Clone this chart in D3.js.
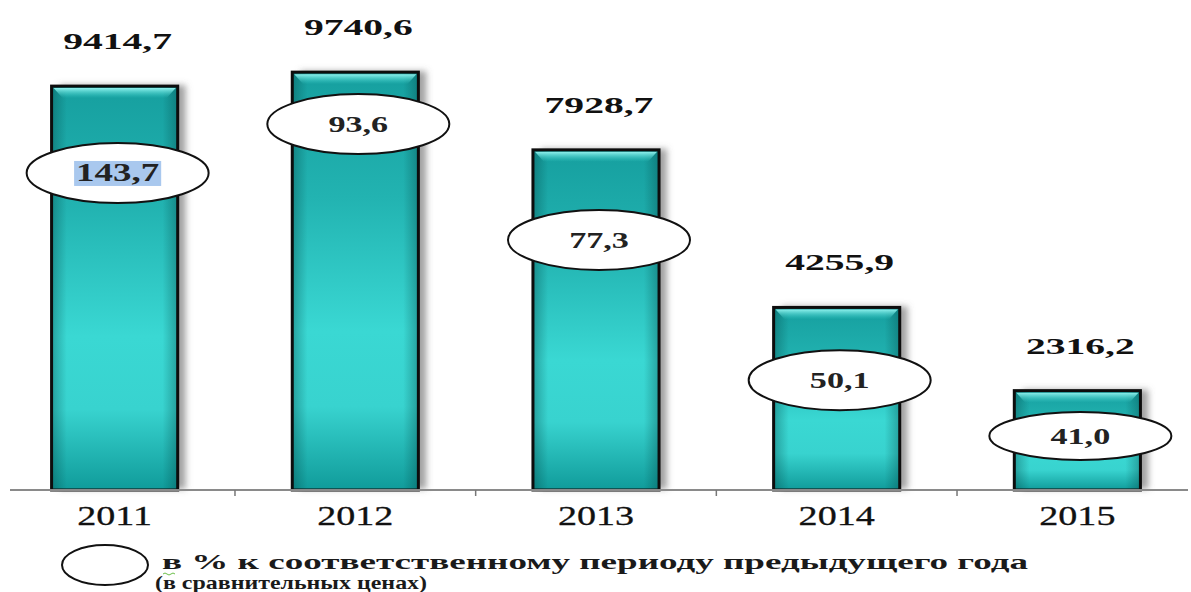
<!DOCTYPE html>
<html>
<head>
<meta charset="utf-8">
<script src="https://cdn.jsdelivr.net/npm/d3@7"></script>
<style>
  body { margin: 0; background: #fff; }
  svg { display: block; }
</style>
</head>
<body>
<div id="chart"></div>
<script>
// data
const years = ['2011', '2012', '2013', '2014', '2015']
const values = [9414.7, 9740.6, 7928.7, 4255.9, 2316.2]
const pct = [143.7, 93.6, 77.3, 50.1, 41.0]
// where each ellipse sits, in value units of the bar scale
const pctAnchor = [7390, 8530, 5830, 2560, 1260]
const legendLines = ['в % к соответственному периоду предыдущего года', '(в сравнительных ценах)']

const W = 1191, H = 592
const baseY = 490
const serif = '"Liberation Serif", "Times New Roman", "DejaVu Serif", serif'

const svg = d3.select('#chart').append('svg')
    .attr('width', W).attr('height', H)

const defs = svg.append('defs')
let grad = defs.append('linearGradient').attr('id', 'barFill')
    .attr('x1', 0).attr('y1', 0).attr('x2', 0).attr('y2', 1)
grad.selectAll('stop')
    .data([[0, '#169f9f'], [0.3, '#22b3b1'], [0.62, '#3ad8d3'], [0.8, '#38d3cf'], [1, '#109b9a']])
    .enter().append('stop')
    .attr('offset', d => d[0]).attr('stop-color', d => d[1])

let side = defs.append('linearGradient').attr('id', 'sideShade')
    .attr('x1', 0).attr('y1', 0).attr('x2', 1).attr('y2', 0)
side.selectAll('stop')
    .data([[0, 'rgba(0,60,60,0.35)'], [0.12, 'rgba(0,60,60,0)'], [0.88, 'rgba(0,60,60,0)'], [1, 'rgba(0,60,60,0.35)']])
    .enter().append('stop')
    .attr('offset', d => d[0]).attr('stop-color', d => d[1])

let bevel = defs.append('linearGradient').attr('id', 'bevel')
    .attr('x1', 0).attr('y1', 0).attr('x2', 0).attr('y2', 1)
bevel.selectAll('stop')
    .data([[0, '#8ff0ec'], [1, 'rgba(60,210,205,0)']])
    .enter().append('stop')
    .attr('offset', d => d[0]).attr('stop-color', d => d[1])

defs.append('filter').attr('id', 'shadow')
    .attr('x', '-10%').attr('y', '-10%').attr('width', '140%').attr('height', '120%')
    .append('feDropShadow')
    .attr('dx', 8).attr('dy', -1).attr('stdDeviation', 3)
    .attr('flood-color', '#666').attr('flood-opacity', 0.6)

// scales
let scX = d3.scaleBand().domain(years).range([-5.7, 1197.7])
    .paddingInner(0.476).paddingOuter(0.238)
let scY = d3.scaleLinear().domain([0, 10000]).range([baseY, 61])

const fmt = v => d3.format('.1f')(v).replace('.', ',')

// stretch a text element horizontally (the picture is widened)
function stretch(sel, k) {
    sel.each(function() {
        let w = this.getComputedTextLength()
        d3.select(this).attr('textLength', w * k).attr('lengthAdjust', 'spacingAndGlyphs')
    })
}

// bars
let bars = svg.append('g')
bars.selectAll('rect.shadow')
    .data(values).enter().append('rect')
    .attr('x', (d, i) => scX(years[i]))
    .attr('y', d => scY(d))
    .attr('width', scX.bandwidth())
    .attr('height', d => baseY - scY(d))
    .attr('fill', '#169f9f')
    .attr('filter', 'url(#shadow)')

bars.selectAll('rect.bar')
    .data(values).enter().append('rect')
    .attr('x', (d, i) => scX(years[i]))
    .attr('y', d => scY(d))
    .attr('width', scX.bandwidth())
    .attr('height', d => baseY - scY(d))
    .attr('fill', 'url(#barFill)')

bars.selectAll('rect.side')
    .data(values).enter().append('rect')
    .attr('x', (d, i) => scX(years[i]))
    .attr('y', d => scY(d))
    .attr('width', scX.bandwidth())
    .attr('height', d => baseY - scY(d))
    .attr('fill', 'url(#sideShade)')

// top bevel
bars.selectAll('path.bevel')
    .data(values).enter().append('path')
    .attr('d', (d, i) => {
        let x0 = scX(years[i]) + 2, x1 = x0 + scX.bandwidth() - 4, y0 = scY(d) + 2
        return `M${x0},${y0}L${x1},${y0}L${x1 - 9},${y0 + 10}L${x0 + 9},${y0 + 10}Z`
    })
    .attr('fill', 'url(#bevel)')

bars.selectAll('rect.edge')
    .data(values).enter().append('rect')
    .attr('x', (d, i) => scX(years[i]))
    .attr('y', d => scY(d))
    .attr('width', scX.bandwidth())
    .attr('height', d => baseY - scY(d))
    .attr('fill', 'none')
    .attr('stroke', '#0d0d0d')
    .attr('stroke-width', 3)

// axis
let axis = svg.append('g').attr('transform', `translate(0, ${baseY})`)
axis.append('line')
    .attr('x1', 10).attr('x2', 1188)
    .attr('stroke', '#8a8a8a').attr('stroke-width', 2)
let step = scX.step()
axis.selectAll('line.tick')
    .data(years.slice(1)).enter().append('line')
    .attr('x1', d => scX(d) - step * scX.paddingInner() / 2)
    .attr('x2', d => scX(d) - step * scX.paddingInner() / 2)
    .attr('y1', 0).attr('y2', 6)
    .attr('stroke', '#777').attr('stroke-width', 1.5)

let xAxis = d3.axisBottom(scX).tickSize(0).tickPadding(0)
let gx = svg.append('g').attr('transform', `translate(0, ${baseY})`).call(xAxis)
gx.select('.domain').remove()
gx.selectAll('text')
    .attr('dy', 0).attr('y', 35)
    .style('font-family', serif)
    .style('font-size', '28px')
    .attr('fill', '#111')
    .attr('stroke', '#111').attr('stroke-width', 0.3)
    .call(stretch, 1.36)

// value labels above the bars
svg.append('g').selectAll('text')
    .data(values).enter().append('text')
    .attr('x', (d, i) => scX(years[i]) + scX.bandwidth() / 2 + 3)
    .attr('y', d => scY(d) - 37)
    .attr('text-anchor', 'middle')
    .style('font-family', serif)
    .style('font-size', '23px')
    .style('font-weight', 'bold')
    .attr('fill', '#111')
    .text(d => fmt(d))
    .call(stretch, 1.72)

// percentage ellipses
let pg = svg.append('g')
pg.selectAll('ellipse')
    .data(pct).enter().append('ellipse')
    .attr('cx', (d, i) => scX(years[i]) + scX.bandwidth() / 2 + 3)
    .attr('cy', (d, i) => scY(pctAnchor[i]))
    .attr('rx', 91)
    .attr('ry', (d, i) => i === 4 ? 24 : 30)
    .attr('fill', '#fff')
    .attr('stroke', '#111')
    .attr('stroke-width', 2)

let pt = pg.selectAll('text')
    .data(pct).enter().append('text')
    .attr('x', (d, i) => scX(years[i]) + scX.bandwidth() / 2 + 3)
    .attr('y', (d, i) => scY(pctAnchor[i]) + 8)
    .attr('text-anchor', 'middle')
    .style('font-family', serif)
    .style('font-size', (d, i) => i === 0 ? '26px' : '24px')
    .style('font-weight', 'bold')
    .attr('fill', '#222')
    .text(d => fmt(d))
    .call(stretch, 1.42)

// the selected-looking first label
pt.filter((d, i) => i === 0).each(function() {
    let b = this.getBBox()
    pg.insert('rect', function() { return pt.nodes()[0] })
        .attr('x', b.x - 2).attr('y', b.y + 3)
        .attr('width', b.width + 4).attr('height', b.height - 4)
        .attr('fill', '#a9c8ee')
})

// legend
let lg = svg.append('g')
lg.append('ellipse')
    .attr('cx', 105).attr('cy', 565).attr('rx', 43).attr('ry', 20)
    .attr('fill', '#fff').attr('stroke', '#111').attr('stroke-width', 2)
lg.selectAll('text')
    .data(legendLines).enter().append('text')
    .attr('x', (d, i) => i === 0 ? 162 : 155)
    .attr('y', (d, i) => i === 0 ? 569 : 589)
    .style('font-family', serif)
    .style('font-size', (d, i) => i === 0 ? '21px' : '19px')
    .style('font-weight', 'bold')
    .attr('fill', '#1a1a1a')
    .text(d => d)
    .each(function(d, i) {
        d3.select(this).attr('textLength', i === 0 ? 866 : 272).attr('lengthAdjust', 'spacingAndGlyphs')
    })
// spell-check squiggle under the first letter
lg.append('path')
    .attr('d', 'M163,574 q2,-2 4,0 t4,0 t4,0')
    .attr('fill', 'none').attr('stroke', '#6bbf4a').attr('stroke-width', 1)
</script>
</body>
</html>
